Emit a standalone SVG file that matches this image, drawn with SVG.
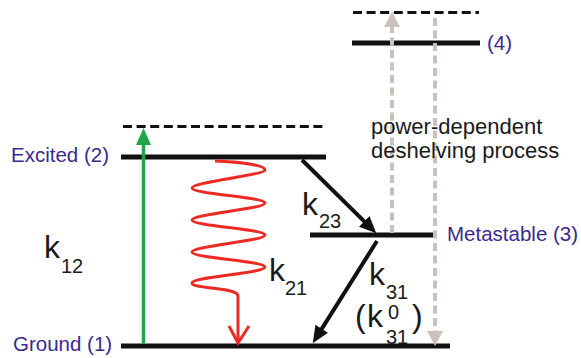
<svg xmlns="http://www.w3.org/2000/svg" width="581" height="358" viewBox="0 0 581 358">
<style>
.lvl{stroke:#111;stroke-width:5;fill:none}
.virt{stroke:#111;stroke-width:3;stroke-dasharray:9 4.6;fill:none}
.lab{font-family:"Liberation Sans",Arial,sans-serif;font-size:20.5px;fill:#3b2a8c}
.k{font-family:"Liberation Sans",Arial,sans-serif;font-size:32px;fill:#1a1a1a}
.s{font-family:"Liberation Sans",Arial,sans-serif;font-size:20px;fill:#1a1a1a}
.note{font-family:"Liberation Sans",Arial,sans-serif;font-size:22px;fill:#1a1a1a}
.blk{stroke:#111;stroke-width:4;fill:none}
.gray{stroke:#c9c2bc;stroke-width:4;stroke-dasharray:8 4.5;fill:none}
</style>
<defs>
<marker id="ahBlack" markerUnits="userSpaceOnUse" viewBox="0 0 17 15" markerWidth="17" markerHeight="15" refX="9" refY="7.5" orient="auto">
<path d="M0,0 L17,7.5 L0,15 z" fill="#111"/>
</marker>
<marker id="ahGreen" markerUnits="userSpaceOnUse" viewBox="0 0 17 15" markerWidth="17" markerHeight="15" refX="8" refY="7.5" orient="auto">
<path d="M0,0 L17,7.5 L0,15 z" fill="#20a64a"/>
</marker>
<marker id="ahGray" markerUnits="userSpaceOnUse" viewBox="0 0 15 16" markerWidth="15" markerHeight="16" refX="7" refY="8" orient="auto">
<path d="M0,0 L15,8 L0,16 z" fill="#c9c2bc"/>
</marker>
</defs>

<g id="virtual-2">
<line class="virt" x1="123" y1="126.5" x2="327" y2="126.5"/>
</g>
<g id="virtual-4">
<line class="virt" x1="353" y1="12.5" x2="479" y2="12.5"/>
</g>
<g id="excited">
<line class="lvl" x1="121" y1="157" x2="326" y2="157"/>
<text class="lab" x="11" y="162">Excited (2)</text>
</g>
<g id="ground">
<line class="lvl" x1="121" y1="346" x2="450" y2="346"/>
<text class="lab" x="13" y="351">Ground (1)</text>
</g>
<g id="metastable">
<line class="lvl" x1="310" y1="235" x2="433" y2="235"/>
<text class="lab" x="447" y="241">Metastable (3)</text>
</g>
<g id="level4">
<line class="lvl" x1="352" y1="43" x2="480" y2="43"/>
<text class="lab" x="487" y="50">(4)</text>
</g>

<g id="connectors">
<line x1="143.5" y1="344" x2="143.5" y2="137" stroke="#20a64a" stroke-width="3.5" marker-end="url(#ahGreen)"/>
<path d="M215,161 C240,162 265,165 265,170 C265,175 192,182 192,188 C192,194 265,197 265,203 C265,209 192,214 192,220 C192,226 265,229 265,235 C265,241 192,246 192,252 C192,258 265,261 265,267 C265,273 192,277 192,283 C192,289 238,287 238,296 L238,342" stroke="#ec2a24" stroke-width="3" fill="none" stroke-linejoin="round"/>
<polyline points="229,326 238,343 249,326" stroke="#ec2a24" stroke-width="3" fill="none" stroke-linejoin="miter"/>
<line class="blk" x1="302" y1="160" x2="370.6" y2="227.7" marker-end="url(#ahBlack)"/>
<line class="blk" x1="377" y1="241" x2="317" y2="336.4" marker-end="url(#ahBlack)"/>
<line class="gray" x1="392" y1="233" x2="392" y2="20" marker-end="url(#ahGray)"/>
<line class="gray" x1="435" y1="18" x2="435" y2="338" marker-end="url(#ahGray)"/>
</g>

<g id="rate-labels">
<text class="k" x="44" y="258">k</text><text class="s" x="61" y="273">12</text>
<text class="k" x="269" y="281">k</text><text class="s" x="285" y="295">21</text>
<text class="k" x="302" y="215">k</text><text class="s" x="319" y="228">23</text>
<text class="k" x="369" y="285">k</text><text class="s" x="386" y="299">31</text>
<text class="k" x="355" y="327">(</text><text class="k" x="367" y="327">k</text><text class="s" x="388" y="319">0</text><text class="s" x="386" y="344">31</text><text class="k" x="412" y="327">)</text>
</g>

<g id="note">
<text class="note" x="371" y="134">power-dependent</text>
<text class="note" x="371" y="158">deshelving process</text>
</g>
</svg>
